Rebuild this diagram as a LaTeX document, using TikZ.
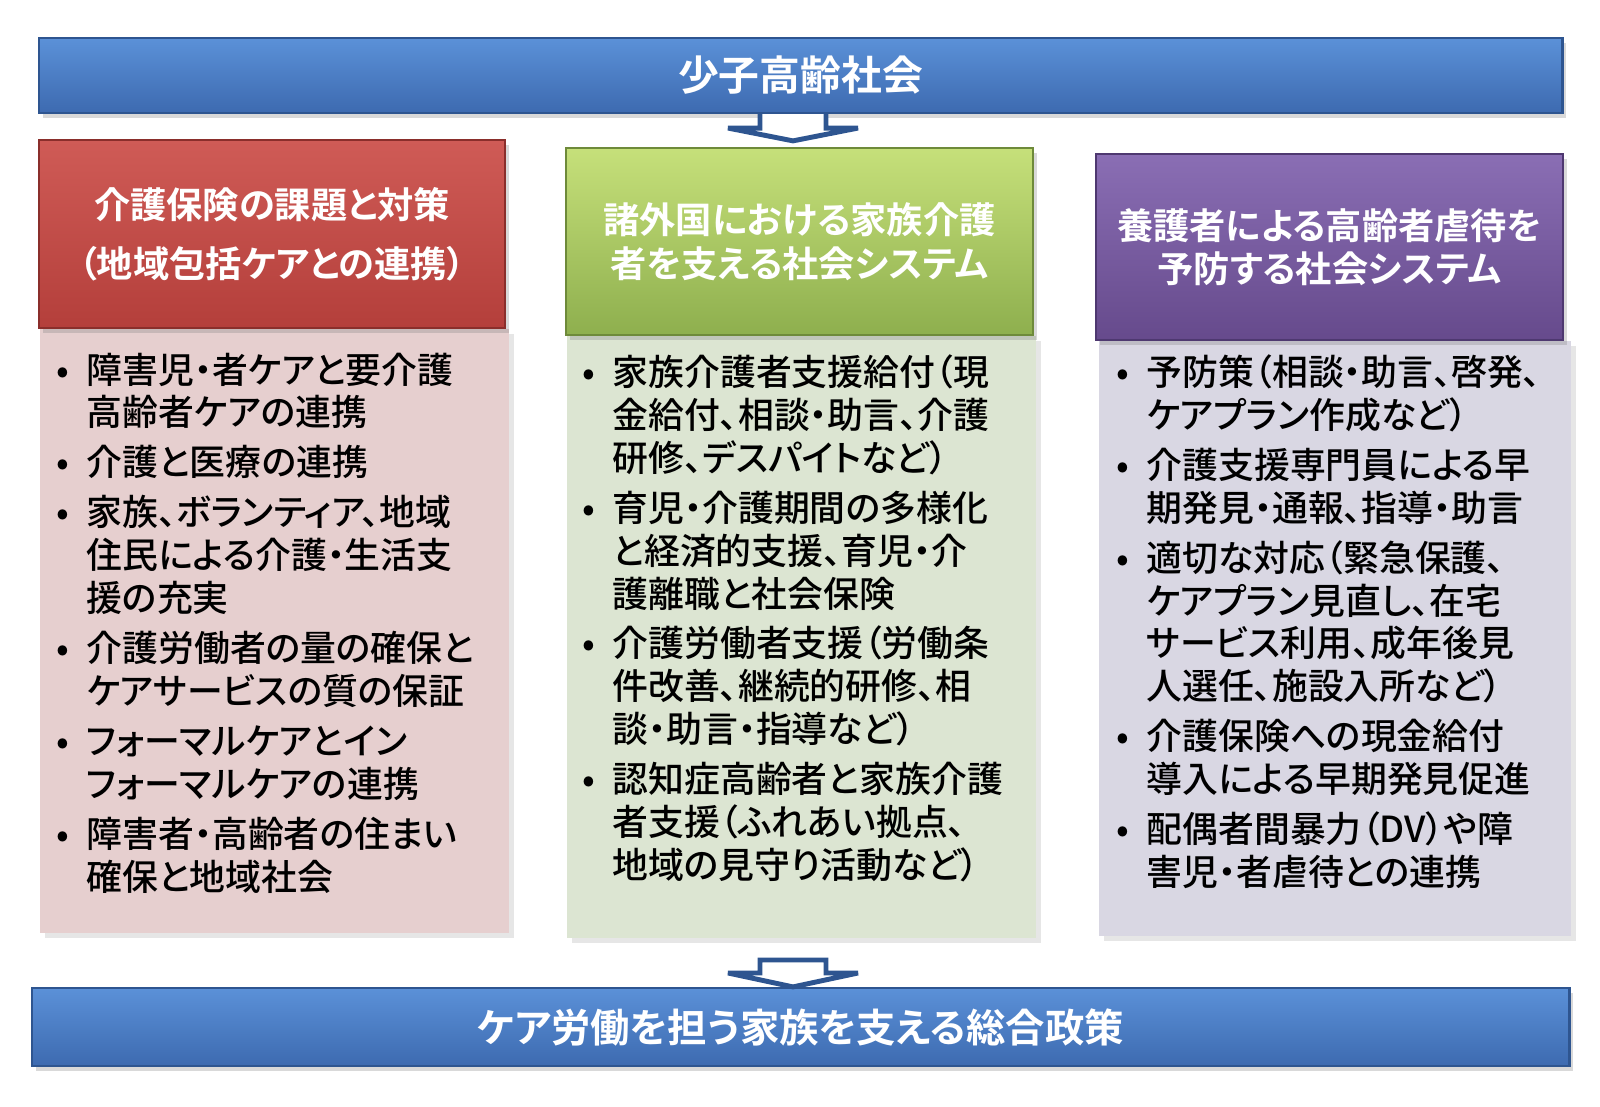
\documentclass[tikz,border=0pt]{standalone}
\usepackage{fontspec}
\setmainfont{Noto Sans CJK JP}[BoldFont={Noto Sans CJK JP Bold},RawFeature=+palt]
\newfontfamily\bodyfont{Noto Sans CJK JP Medium}[RawFeature=+palt]
\usetikzlibrary{shadows,positioning,calc}

\definecolor{bluetop}{HTML}{5B91D8}
\definecolor{bluebot}{HTML}{3D6AB0}
\definecolor{blueline}{HTML}{2E5590}
\definecolor{redtop}{HTML}{CF5B56}
\definecolor{redbot}{HTML}{B43F3B}
\definecolor{redline}{HTML}{8A2E2B}
\definecolor{greentop}{HTML}{C6E07A}
\definecolor{greenbot}{HTML}{8EAF4E}
\definecolor{greenline}{HTML}{6E8A3A}
\definecolor{purptop}{HTML}{8A6EB4}
\definecolor{purpbot}{HTML}{664A8C}
\definecolor{purpline}{HTML}{4E3870}
\definecolor{bodyred}{HTML}{E6CFCF}
\definecolor{bodygreen}{HTML}{DCE5D2}
\definecolor{bodypurp}{HTML}{D9D7E3}

\tikzset{
  bar/.style={draw=blueline, line width=0.6pt, top color=bluetop, bottom color=bluebot,
    text=white, font=\fontsize{11.6}{14}\bfseries,
    drop shadow={opacity=0.3, shadow xshift=0.4mm, shadow yshift=-0.5mm}},
  hdr/.style={line width=0.6pt, text=white, align=center, font=\fontsize{10.3}{12.4}\bfseries,
    drop shadow={opacity=0.3, shadow xshift=0.4mm, shadow yshift=-0.5mm}},
  bodybox/.style={anchor=north west, inner sep=0pt,
    drop shadow={opacity=0.2, shadow xshift=0.5mm, shadow yshift=-0.5mm}},
  bodytext/.style={anchor=north west, inner sep=0pt, align=left, font=\bodyfont\fontsize{10.2}{12.2}\selectfont},
  blockarrow/.style={draw=blueline, line width=1.4pt, fill=white, line join=miter, miter limit=2}
}
\newcommand{\bul}{\makebox[8.5pt][l]{•}}
\newcommand{\ind}{\hspace*{8.5pt}}

\begin{document}
\begin{tikzpicture}[x=0.01cm, y=-0.01cm]
\useasboundingbox (0,0) rectangle (1600,1107);

% bars top and bottom
\node[bar, minimum width=15.23cm, minimum height=0.75cm] (top) at (800.5,75.5) {少子高齢社会};
\node[bar, minimum width=15.37cm, minimum height=0.78cm, font=\fontsize{11.2}{14}\bfseries] (bottom) at (800.5,1027) {ケア労働を担う家族を支える総合政策};

% bodies
\node[bodybox, fill=bodyred, minimum width=4.69cm, minimum height=6.04cm] (bdL) at (39,328) {};
\node[bodybox, fill=bodygreen, minimum width=4.69cm, minimum height=6.02cm] (bdM) at (566,335) {};
\node[bodybox, fill=bodypurp, minimum width=4.72cm, minimum height=5.95cm] (bdR) at (1098,340) {};

% headers
\node[hdr, draw=redline, top color=redtop, bottom color=redbot, minimum width=4.66cm, minimum height=1.88cm,
  font=\fontsize{10.3}{16.8}\bfseries] (hdL) at (272,234) {介護保険の課題と対策\\（地域包括ケアとの連携）};
\node[hdr, draw=greenline, top color=greentop, bottom color=greenbot, minimum width=4.67cm, minimum height=1.87cm]
  (hdM) at (799.5,241.5) {諸外国における家族介護\\者を支える社会システム};
\node[hdr, draw=purpline, top color=purptop, bottom color=purpbot, minimum width=4.67cm, minimum height=1.86cm]
  (hdR) at (1329.5,247) {養護者による高齢者虐待を\\予防する社会システム};

% body texts
\node[bodytext] (txL) at (56,352) {%
\bul 障害児・者ケアと要介護\\
\ind 高齢者ケアの連携\\[2pt]
\bul 介護と医療の連携\\[2pt]
\bul 家族、ボランティア、地域\\
\ind 住民による介護・生活支\\
\ind 援の充実\\[2pt]
\bul 介護労働者の量の確保と\\
\ind ケアサービスの質の保証\\[2pt]
\bul フォーマルケアとイン\\
\ind フォーマルケアの連携\\[2pt]
\bul 障害者・高齢者の住まい\\
\ind 確保と地域社会};

\node[bodytext] (txM) at (582,354) {%
\bul 家族介護者支援給付（現\\
\ind 金給付、相談・助言、介護\\
\ind 研修、デスパイトなど）\\[2pt]
\bul 育児・介護期間の多様化\\
\ind と経済的支援、育児・介\\
\ind 護離職と社会保険\\[2pt]
\bul 介護労働者支援（労働条\\
\ind 件改善、継続的研修、相\\
\ind 談・助言・指導など）\\[2pt]
\bul 認知症高齢者と家族介護\\
\ind 者支援（ふれあい拠点、\\
\ind 地域の見守り活動など）};

\node[bodytext] (txR) at (1116,354) {%
\bul 予防策（相談・助言、啓発、\\
\ind ケアプラン作成など）\\[2pt]
\bul 介護支援専門員による早\\
\ind 期発見・通報、指導・助言\\[2pt]
\bul 適切な対応（緊急保護、\\
\ind ケアプラン見直し、在宅\\
\ind サービス利用、成年後見\\
\ind 人選任、施設入所など）\\[2pt]
\bul 介護保険への現金給付\\
\ind 導入による早期発見促進\\[2pt]
\bul 配偶者間暴力（DV）や障\\
\ind 害児・者虐待との連携};

% block arrows
\coordinate (a1) at (top.south -| 793,0);
\coordinate (a1tip) at (hdM.north -| 793,0);
\draw[blockarrow] ($(a1)+(-33,0)$) -- ++(0,14) -- ++(-32,0) -- ($(a1tip)+(0,-6)$)
  -- ($(a1)+(65,14)$) -- ++(-32,0) -- ++(0,-14);
\coordinate (a2) at (793,960);
\coordinate (a2tip) at (bottom.north -| 793,0);
\draw[blockarrow] ($(a2)+(-33,0)$) -- ++(0,13) -- ++(-32,0) -- (a2tip)
  -- ($(a2)+(65,13)$) -- ++(-32,0) -- ++(0,-13) -- cycle;
\end{tikzpicture}
\end{document}
